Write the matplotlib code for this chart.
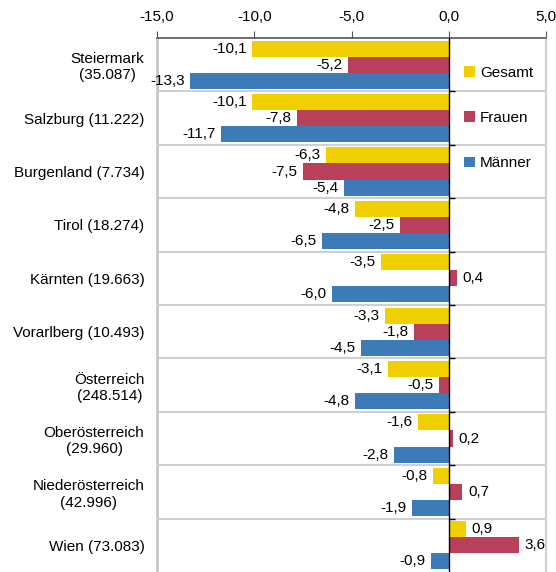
import numpy as np
import matplotlib
matplotlib.use('Agg')
import matplotlib.pyplot as plt

plt.rcParams['font.family'] = ['Liberation Sans', 'DejaVu Sans']

# Daten (von oben nach unten)
regionen = ['Steiermark\n(35.087)', 'Salzburg (11.222)', 'Burgenland (7.734)',
            'Tirol (18.274)', 'Kärnten (19.663)', 'Vorarlberg (10.493)',
            'Österreich\n(248.514)', 'Oberösterreich\n(29.960)',
            'Niederösterreich\n(42.996)', 'Wien (73.083)']
gesamt = [-10.1, -10.1, -6.3, -4.8, -3.5, -3.3, -3.1, -1.6, -0.8, 0.9]
frauen = [-5.2, -7.8, -7.5, -2.5, 0.4, -1.8, -0.5, 0.2, 0.7, 3.6]
maenner = [-13.3, -11.7, -5.4, -6.5, -6.0, -4.5, -4.8, -2.8, -1.9, -0.9]
x_ticks = [-15, -10, -5, 0, 5]
x_ticklabels = ['-15,0', '-10,0', '-5,0', '0,0', '5,0']

serien = [('Gesamt', gesamt, '#F0D000'),
          ('Frauen', frauen, '#B8405A'),
          ('Männer', maenner, '#3D7AB8')]

fs = 11

fig = plt.figure(figsize=(5.56, 5.72), dpi=100)
ax = fig.add_axes([157 / 556, 0.0, 389 / 556, 1 - 38 / 572])

pos = np.arange(len(regionen))
h = 0.3
for i, (name, werte, farbe) in enumerate(serien):
    bars = ax.barh(pos + (i - 1) * h, werte, height=h, color=farbe, label=name, zorder=2)
    ax.bar_label(bars, labels=[f'{v:.1f}'.replace('.', ',') for v in werte],
                 padding=4, fontsize=fs, zorder=4)

# Trennlinien zwischen Gruppen
grenzen = pos[:-1] + 0.5
ax.hlines(grenzen, -15, 5, color='#D0D0D0', lw=1.5, zorder=1)
ax.axvline(0, color='black', lw=1, zorder=3)
ax.hlines(grenzen, 0, 0.3, color='black', lw=1, zorder=3)

ax.set_xlim(-15, 5)
ax.set_ylim(len(regionen) - 0.5, -0.5)
ax.xaxis.tick_top()
ax.set_xticks(x_ticks)
ax.set_xticklabels(x_ticklabels, fontsize=fs)
ax.tick_params(axis='x', direction='out', length=5, color='#555555', pad=5)
ax.set_yticks(pos)
ax.set_yticklabels(regionen, fontsize=fs)
for t in ax.get_yticklabels():
    t.set_multialignment('center')
ax.tick_params(axis='y', length=0, pad=9)

ax.spines['top'].set_color('#555555')
ax.spines['top'].set_linewidth(1.2)
ax.spines['left'].set_color('#C8C8C8')
ax.spines['left'].set_linewidth(2)
ax.spines['right'].set_color('#D0D0D0')
ax.spines['right'].set_linewidth(1.5)
ax.spines['bottom'].set_visible(False)

ax.legend(loc='upper left', bbox_to_anchor=(0.79, 0.948), frameon=False,
          fontsize=fs, handlelength=0.68, handleheight=0.68, handletextpad=0.35,
          labelspacing=2.05, borderpad=0, borderaxespad=0)

plt.savefig('out.png', dpi=100)
